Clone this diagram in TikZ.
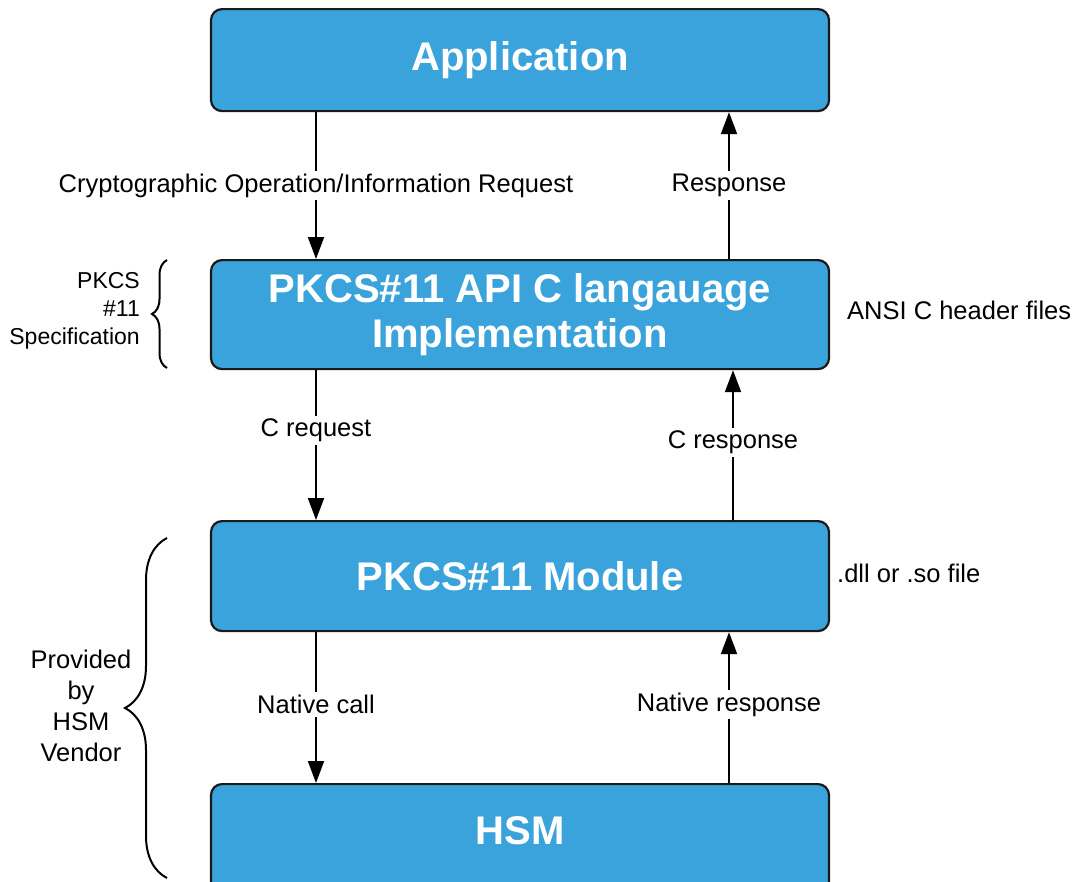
\documentclass[tikz,border=0pt]{standalone}
\usepackage{fontspec}
\setmainfont{Liberation Sans}
\usetikzlibrary{arrows.meta,decorations.pathreplacing}
\definecolor{boxblue}{RGB}{59,163,219}
\begin{document}
\begin{tikzpicture}[x=1pt,y=-1pt,
        box/.style={draw=black!90,line width=2.2pt,fill=boxblue,rounded corners=11pt,
            minimum width=618pt,anchor=north,text=white,align=center,
            font=\fontsize{40}{45}\selectfont\bfseries},
        lbl/.style={fill=white,inner sep=3pt,font=\fontsize{25.5}{31}\selectfont},
        note/.style={inner sep=0pt,font=\fontsize{25.5}{31}\selectfont},
        flow/.style={line width=2pt,-{Triangle[length=22pt,width=16pt]}},
        curly/.style={line width=2pt,decorate,decoration={brace,amplitude=#1}},
        curly/.default=15pt]
    \useasboundingbox (0,0) rectangle (1075,881);
    \clip (0,0) rectangle (1075,881);
    % the four layers
    \node[box,minimum height=102pt] (app) at (520,8) {Application};
    \node[box,minimum height=109pt] (api) at (520,259) {PKCS\#11 API C langauage\\Implementation};
    \node[box,minimum height=110pt] (mod) at (520,520) {PKCS\#11 Module};
    \node[box,minimum height=130pt,text depth=38pt] (hsm) at (520,783) {HSM};
    % requests go down on the left, responses up on the right
    \coordinate (lx) at (316,0);
    \coordinate (rx) at (729,0);
    \coordinate (cx) at (733,0);
    \draw[flow] (app.south -| lx) -- node[lbl] (opreq) {Cryptographic Operation/Information Request} (api.north -| lx);
    \draw[flow] (api.north -| rx) -- node[lbl] (resp) {Response} (app.south -| rx);
    \draw[flow] (api.south -| lx) -- node[lbl,pos=0.4] (creq) {C request} (mod.north -| lx);
    \draw[flow] (mod.north -| cx) -- node[lbl,pos=0.52] (cresp) {C response} (api.south -| cx);
    \draw[flow] (mod.south -| lx) -- node[lbl,pos=0.48] (ncall) {Native call} (hsm.north -| lx);
    \draw[flow] (hsm.north -| rx) -- node[lbl,pos=0.52] (nresp) {Native response} (mod.south -| rx);
    % notes at the side
    \node[note,anchor=west] (hdr) at (847,310) {ANSI C header files};
    \node[note,anchor=west] (dll) at (837,573) {.dll or .so file};
    \draw[curly] (167,368) -- (167,260);
    \node[note,align=right,anchor=east,font=\fontsize{23}{28}\selectfont] (spec) at (140,311) {PKCS\\\#11\\Specification};
    \draw[curly=42pt] (167,878) -- (167,538);
    \node[note,align=center] (vendor) at (81,706) {Provided\\by\\HSM\\Vendor};
\end{tikzpicture}
\end{document}
